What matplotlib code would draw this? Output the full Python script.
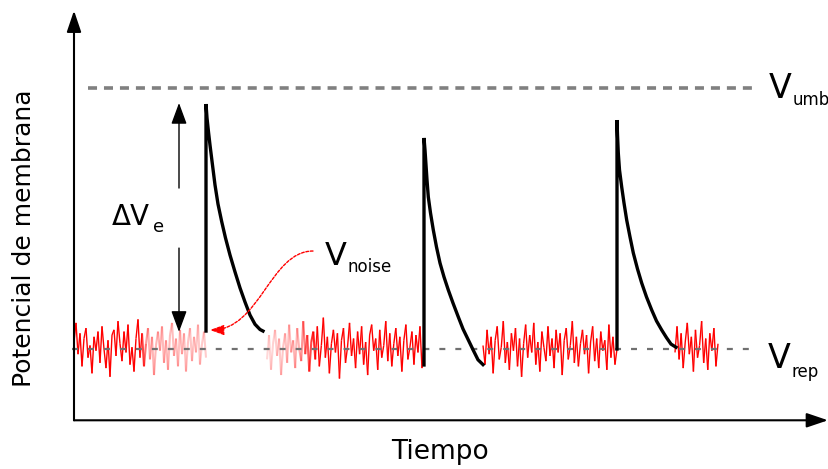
import numpy as np
import matplotlib
matplotlib.use('Agg')
import matplotlib.pyplot as plt
from matplotlib.collections import LineCollection
from matplotlib.patches import FancyArrowPatch
from matplotlib.path import Path

plt.rcParams['font.family'] = ['DejaVu Sans']
plt.rcParams['lines.scale_dashes'] = False

# membrane potential levels (mV)
V_rep = -70.0
V_umb = -55.0

# noise segments: (start ms, end ms) and noise values around V_rep (mV)
noiseSpans = [(0.0, 13.2), (19.3, 35.0), (40.9, 54.3), (60.1, 64.4)]
noiseA = [0.4, 1.5, -0.3, 0.9, -1.0, 0.6, 1.2, -0.5, 0.2, -1.4, 0.7, -0.1, 1.0, -0.8, 1.3, 0.0,
          -1.1, 0.5, -1.6, 0.8, 1.1, -0.4, 1.6, 0.3, -0.7, 1.0, -0.2, 1.4, -0.9, 0.1, -1.3, 0.6,
          1.7, -0.5, 0.9, -1.0, 0.3, 1.2, -0.6, 0.7, -1.5, 0.2, 1.0, -0.1, 1.3, -0.8, 0.5, -1.2,
          0.8, 1.5, -0.4, 0.6, -1.0, 1.1, -0.3, 0.9, -1.3, 0.4, 1.2, -0.7, 0.7, -0.2, 1.4, -0.9,
          0.3, 1.0, -0.5]
noiseB = [-0.6, 0.8, -1.2, 0.3, 1.1, -0.4, 0.6, -1.5, 0.1, 0.9, -0.8, 1.4, -0.2, 0.5, -1.1, 1.2,
          0.0, -0.7, 1.6, -0.3, 0.8, -1.3, 0.4, 1.0, -0.6, 1.3, -1.0, 0.2, 1.8, -0.5, 0.7, -1.4,
          0.3, 1.1, -0.2, 0.9, -1.7, 0.5, 1.2, -0.8, 0.1, 1.5, -0.4, 0.6, -1.1, 1.0, -0.3, 1.3,
          -0.9, 0.4, -1.5, 0.8, 1.4, -0.1, 0.6, -1.2, 1.1, -0.5, 0.2, 1.6, -0.7, 0.9, -1.0, 0.3,
          1.2, -0.4, 0.7, -1.3, 0.5, 1.4, -0.6, 0.1, 1.0, -0.9, 0.8, -0.2, 1.3, -1.1, 0.4]
noiseC = [0.2, -0.9, 1.1, -0.3, 0.7, -1.4, 0.5, 1.3, -0.6, 0.1, 1.6, -0.8, 0.4, -1.2, 0.9, -0.1,
          1.2, -1.0, 0.6, -1.6, 0.3, 1.4, -0.5, 0.8, -0.2, 1.5, -0.9, 0.4, -1.3, 1.0, 0.1, -0.7,
          1.3, -0.4, 0.6, -1.1, 1.1, -0.2, 0.9, -1.5, 0.5, 1.2, -0.6, 0.2, 1.6, -0.8, 0.7, -1.0,
          0.3, 1.1, -0.3, 0.8, -1.4, 0.4, 1.3, -0.7, 0.6, -1.1, 1.0, -0.1, 0.5, -1.2, 1.4, -0.5,
          0.7, -0.9, 0.0]
noiseD = [-0.2, 1.3, -0.6, 0.9, -1.1, 0.4, 1.5, -0.3, 0.7, -1.3, 1.1, -0.5, 0.2, 1.6, -0.8, 0.6,
          -1.2, 0.9, -0.1, 1.2, -1.0, 0.3]
noiseValues = [noiseA, noiseB, noiseC, noiseD]
# opacity along each segment (faded parts around the first spike)
fadeTimes = [[0.0, 6.6, 7.4, 13.2], [19.3, 22.5, 24.4, 35.0], [40.9, 54.3], [60.1, 64.4]]
fadeAlpha = [[1.0, 1.0, 0.3, 0.2], [0.15, 0.3, 1.0, 1.0], [1.0, 1.0], [1.0, 1.0]]

# EPSPs: onset voltage, then decay curve (time ms, voltage mV)
spike1_t = [13.2, 13.2, 13.3, 13.45, 13.6, 13.85, 14.1, 14.4, 14.77, 15.15, 15.6, 16.1, 16.6,
            17.1, 17.6, 18.1, 18.6, 18.9]
spike1_v = [-68.97, -55.92, -56.72, -57.53, -58.28, -59.43, -60.57, -61.67, -62.68, -63.62,
            -64.60, -65.57, -66.49, -67.30, -68.05, -68.58, -68.88, -68.97]
spike2_t = [35.0, 35.0, 35.1, 35.2, 35.3, 35.43, 35.65, 35.93, 36.25, 36.6, 37.0, 37.43, 37.9,
            38.43, 38.9, 39.43, 39.95, 40.4, 40.9]
spike2_v = [-70.92, -57.87, -58.56, -59.43, -60.29, -61.26, -62.18, -63.16, -64.14, -65.06,
            -65.86, -66.61, -67.36, -68.16, -68.85, -69.48, -70.1, -70.62, -70.9]
spike3_t = [54.3, 54.3, 54.35, 54.43, 54.55, 54.77, 55.0, 55.27, 55.6, 55.93, 56.35, 56.77,
            57.25, 57.77, 58.25, 58.77, 59.25, 59.7, 60.2]
spike3_v = [-70.0, -56.84, -57.70, -58.74, -59.71, -60.69, -61.61, -62.59, -63.56, -64.48,
            -65.40, -66.21, -67.01, -67.76, -68.39, -68.91, -69.35, -69.72, -69.9]
spikes = [(spike1_t, spike1_v), (spike2_t, spike2_v), (spike3_t, spike3_v)]


fig = plt.figure(figsize=(8.29, 4.69), dpi=100)
ax = fig.add_axes([0, 0, 1, 1])
ax.set_xlim(-7.4, 75.5)
ax.set_ylim(-76.9, -49.94)
ax.axis('off')

# noise
for (t0, t1), vals, ft, fa in zip(noiseSpans, noiseValues, fadeTimes, fadeAlpha):
    t = np.linspace(t0, t1, len(vals))
    v = V_rep + np.array(vals)
    pts = np.column_stack([t, v]).reshape(-1, 1, 2)
    segs = np.concatenate([pts[:-1], pts[1:]], axis=1)
    alphas = np.interp((t[:-1] + t[1:]) / 2, ft, fa)
    colors = [(1, 0, 0, a) for a in alphas]
    widths = [1.0 if a > 0.9 else 1.5 for a in alphas]
    ax.add_collection(LineCollection(segs, colors=colors, linewidths=widths, zorder=1))

# reference levels
ax.plot([1.4, 67.9], [V_umb, V_umb], color='#808080', lw=2.6, ls=(0, (6.5, 5)), zorder=2)
ax.plot([-0.2, 68.1], [V_rep, V_rep], color='#707070', lw=1.6, ls=(0, (4.3, 7.2)), zorder=2)

# spikes
for st, sv in spikes:
    ax.plot(st, sv, color='black', lw=2.4, solid_joinstyle='miter', zorder=3)

# axes with arrows
axisBottom = -74.1
axisArrow = dict(arrowstyle='-|>,head_length=0.65,head_width=0.22', lw=1.5,
                 color='black', shrinkA=0, shrinkB=0, mutation_scale=20)
ax.annotate('', xy=(75.4, axisBottom), xytext=(0, axisBottom), arrowprops=axisArrow)
ax.annotate('', xy=(0, -50.55), xytext=(0, axisBottom), arrowprops=axisArrow)

# delta V arrows
deltaArrow = dict(arrowstyle='-|>,head_length=0.65,head_width=0.24', lw=1.0,
                  color='black', shrinkA=0, shrinkB=0, mutation_scale=20)
ax.annotate('', xy=(10.5, -55.86), xytext=(10.5, -60.75), arrowprops=deltaArrow)
ax.annotate('', xy=(10.5, -69.02), xytext=(10.5, -64.2), arrowprops=deltaArrow)

# V_noise curved arrow
noisePath = Path([(23.9, -64.37), (19.6, -64.37), (18.6, -68.91), (13.6, -68.91)],
                 [Path.MOVETO, Path.CURVE4, Path.CURVE4, Path.CURVE4])
ax.add_patch(FancyArrowPatch(path=noisePath, arrowstyle='-|>,head_length=0.6,head_width=0.22',
                             mutation_scale=14, color='red', lw=1.0, ls=(0, (2, 1.2)), zorder=4))

# labels
ax.text(3.8, -62.87, 'ΔV', fontsize=20, ha='left', va='baseline')
ax.text(7.85, -63.28, 'e', fontsize=13, ha='left', va='baseline')
ax.text(25.1, -65.17, 'V', fontsize=23, ha='left', va='baseline')
ax.text(27.4, -65.57, 'noise', fontsize=12, ha='left', va='baseline')
ax.text(69.5, -55.57, 'V', fontsize=24, ha='left', va='baseline')
ax.text(71.9, -55.98, 'umb', fontsize=12, ha='left', va='baseline')
ax.text(69.4, -71.09, 'V', fontsize=24, ha='left', va='baseline')
ax.text(71.8, -71.61, 'rep', fontsize=12, ha='left', va='baseline')

ax.text(-5.0, -63.62, 'Potencial de membrana', fontsize=18, rotation=90,
        ha='center', va='center')
ax.text(36.6, -75.92, 'Tiempo', fontsize=19, ha='center', va='center')

fig.savefig('out.png', dpi=100)
